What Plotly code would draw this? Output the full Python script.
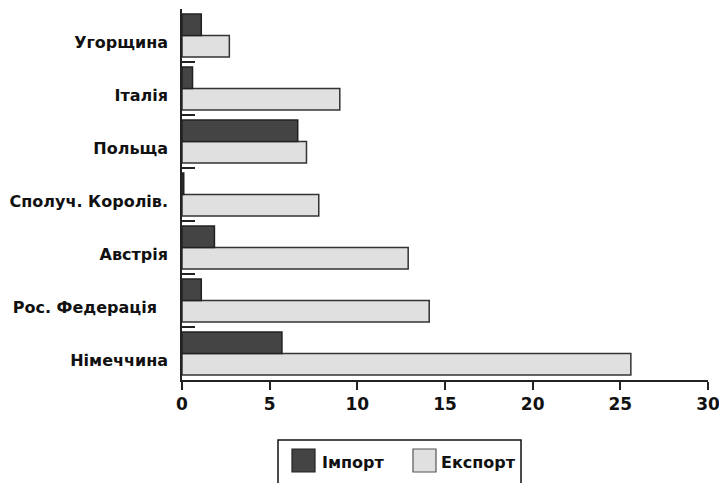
import plotly.graph_objects as go

countries = ["Німеччина", "Рос. Федерація\u00a0\u00a0", "Австрія", "Сполуч. Королів.", "Польща", "Італія", "Угорщина"]
import_vals = [5.7, 1.1, 1.85, 0.1, 6.6, 0.6, 1.1]
export_vals = [25.6, 14.1, 12.9, 7.8, 7.1, 9.0, 2.7]
x_ticks = [0, 5, 10, 15, 20, 25, 30]
series_names = ["Імпорт", "Експорт"]
import_color = "#444444"
export_color = "#e0e0e0"

FONT = "DejaVu Sans, Liberation Sans, Arial, sans-serif"
W, H = 719, 483
ML, MR, MT, MB = 182, 11, 9, 103
PW, PH = W - ML - MR, H - MT - MB


def px(x):
    return (x - ML) / PW


def py(y):
    return (H - MB - y) / PH


fig = go.Figure()
fig.add_trace(go.Bar(
    y=countries, x=export_vals, name=series_names[1], orientation="h",
    marker=dict(color=export_color, line=dict(color="#333333", width=1.5)),
    showlegend=False,
))
fig.add_trace(go.Bar(
    y=countries, x=import_vals, name=series_names[0], orientation="h",
    marker=dict(color=import_color, line=dict(color="#222222", width=1.5)),
    showlegend=False,
))

# legend box (drawn as layout decoration)
shapes = [
    dict(type="rect", xref="paper", yref="paper", x0=px(278), x1=px(521), y0=py(440), y1=py(495),
         line=dict(color="#111111", width=1.5), fillcolor="rgba(0,0,0,0)", layer="above"),
    dict(type="rect", xref="paper", yref="paper", x0=px(292), x1=px(315), y0=py(449), y1=py(472),
         line=dict(color="#222222", width=1.2), fillcolor=import_color, layer="above"),
    dict(type="rect", xref="paper", yref="paper", x0=px(413), x1=px(436), y0=py(449), y1=py(472),
         line=dict(color="#555555", width=1.2), fillcolor=export_color, layer="above"),
]
annotations = [
    dict(text=series_names[0], xref="paper", yref="paper", x=px(320), y=py(462), xanchor="left", yanchor="middle",
         showarrow=False, font=dict(size=16, family=FONT, weight="bold", color="#111111")),
    dict(text=series_names[1], xref="paper", yref="paper", x=px(439), y=py(462), xanchor="left", yanchor="middle",
         showarrow=False, font=dict(size=16, family=FONT, weight="bold", color="#111111")),
]

fig.update_layout(
    width=W, height=H,
    margin=dict(l=ML, r=MR, t=MT, b=MB, autoexpand=False),
    barmode="group", bargap=0.19, bargroupgap=0,
    plot_bgcolor="white", paper_bgcolor="white",
    font=dict(family=FONT, color="#111111"),
    showlegend=False,
    shapes=shapes, annotations=annotations,
)
fig.update_xaxes(
    range=[0, 30], tickvals=x_ticks, ticktext=[str(v) for v in x_ticks],
    showgrid=False, zeroline=False,
    showline=True, linecolor="#222222", linewidth=1.5,
    ticks="outside", ticklen=8, tickwidth=1.5, tickcolor="#222222",
    tickfont=dict(size=17, family=FONT, weight="bold"),
    ticklabeloverflow="allow",
)
fig.update_yaxes(
    showgrid=False, zeroline=False,
    showline=True, linecolor="#222222", linewidth=1.5,
    ticks="inside", ticklen=13, tickwidth=1.5, tickcolor="#222222",
    tickson="boundaries", ticklabelstandoff=9, ticklabelshift=7,
    tickfont=dict(size=16, family=FONT, weight="bold"),
)

fig.write_html(
    "out.html",
    config={"displayModeBar": False},
    post_script="document.body.style.margin='0';document.body.style.overflow='hidden';",
)
